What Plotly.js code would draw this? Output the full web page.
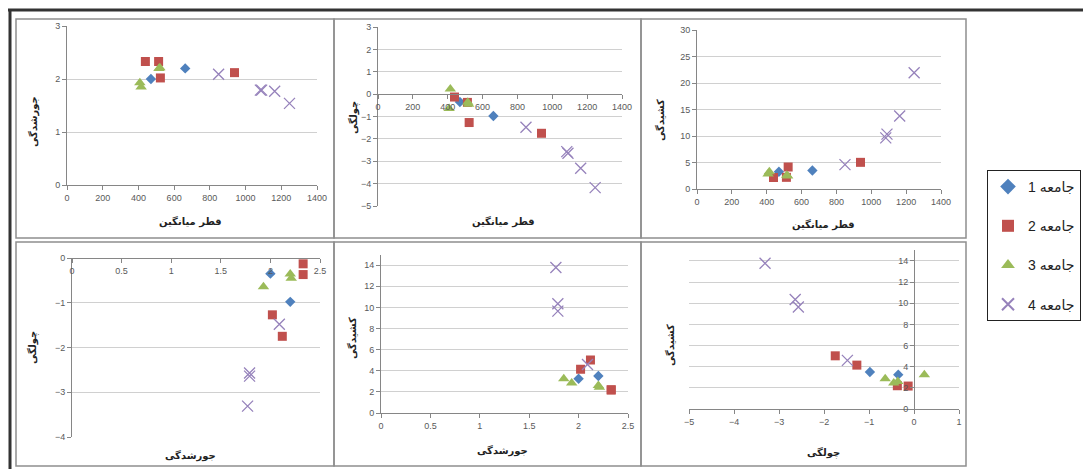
<!DOCTYPE html>
<html>
<head>
<meta charset="utf-8">
<script src="https://cdn.plot.ly/plotly-3.0.1.min.js"></script>
<style>html,body{margin:0;padding:0;background:#fff;}#chart{width:1083px;height:469px;}</style>
</head>
<body>
<div id="chart"></div>
<script>
// ---- Data ----
const groupNames = ['جامعه 1', 'جامعه 2', 'جامعه 3', 'جامعه 4'];

// mean diameter (قطر میانگین)
const g1_diameter = [470, 662];
const g2_diameter = [439, 513, 523, 938];
const g3_diameter = [415, 408, 515, 520];
const g4_diameter = [849, 1083, 1090, 1163, 1246];

// sorting (جورشدگی)
const g1_sorting = [2.0, 2.2];
const g2_sorting = [2.33, 2.33, 2.02, 2.12];
const g3_sorting = [1.85, 1.93, 2.2, 2.21];
const g4_sorting = [2.09, 1.79, 1.79, 1.77, 1.54];

// skewness (چولگی)
const g1_skewness = [-0.35, -0.98];
const g2_skewness = [-0.13, -0.37, -1.27, -1.75];
const g3_skewness = [0.23, -0.64, -0.36, -0.45];
const g4_skewness = [-1.48, -2.57, -2.64, -3.31, -4.18];

// kurtosis (کشیدگی)
const g1_kurtosis = [3.25, 3.5];
const g2_kurtosis = [2.17, 2.2, 4.15, 5.03];
const g3_kurtosis = [3.25, 2.85, 2.6, 2.45];
const g4_kurtosis = [4.6, 9.65, 10.35, 13.78, 21.95];

const labelDiameter = 'قطر میانگین';
const labelSorting = 'جورشدگی';
const labelSkewness = 'چولگی';
const labelKurtosis = 'کشیدگی';

// ---- Build ----
const W = 1083, H = 469;
const fx = p => p / W;
const fy = p => 1 - p / H;
const rtl = s => '\u202B' + s + '\u202C';

const groups = [
  {name: groupNames[0], d: g1_diameter, s: g1_sorting, k: g1_skewness, u: g1_kurtosis,
   marker: {symbol: 'diamond', size: 8, color: '#4f81bd'}},
  {name: groupNames[1], d: g2_diameter, s: g2_sorting, k: g2_skewness, u: g2_kurtosis,
   marker: {symbol: 'square', size: 9, color: '#c0504d'}},
  {name: groupNames[2], d: g3_diameter, s: g3_sorting, k: g3_skewness, u: g3_kurtosis,
   marker: {symbol: 'triangle-up', size: 10, color: '#9bbb59'}},
  {name: groupNames[3], d: g4_diameter, s: g4_sorting, k: g4_skewness, u: g4_kurtosis,
   marker: {symbol: 'x-thin-open', size: 11, color: '#9682bb', line: {color: '#9682bb', width: 1.3}}}
];

const panels = [
  {xv: 'd', yv: 's', xt: labelDiameter, yt: labelSorting, xr: [0, 1400], yr: [0, 3], xdt: 200, ydt: 1,
   xpx: [67, 317], ypx: [26, 185], xt_pos: [190, 222], yt_pos: [33, 122]},
  {xv: 'd', yv: 'k', xt: labelDiameter, yt: labelSkewness, xr: [0, 1400], yr: [-5, 3], xdt: 200, ydt: 1,
   xpx: [378, 622], ypx: [27, 206], xt_pos: [503, 222], yt_pos: [353, 118], xCross: 0},
  {xv: 'd', yv: 'u', xt: labelDiameter, yt: labelKurtosis, xr: [0, 1400], yr: [0, 30], xdt: 200, ydt: 5,
   xpx: [697, 941], ypx: [30, 189], xt_pos: [823, 224], yt_pos: [660, 120]},
  {xv: 's', yv: 'k', xt: labelSorting, yt: labelSkewness, xr: [0, 2.5], yr: [-4, 0], xdt: 0.5, ydt: 1,
   xpx: [72, 320], ypx: [258, 437], xt_pos: [190, 455], yt_pos: [32, 348], xCross: 0},
  {xv: 's', yv: 'u', xt: labelSorting, yt: labelKurtosis, xr: [0, 2.5], yr: [0, 15], xdt: 0.5, ydt: 2,
   xpx: [381, 628], ypx: [254.6, 413], xt_pos: [502, 450], yt_pos: [352, 338]},
  {xv: 'k', yv: 'u', xt: labelSkewness, yt: labelKurtosis, xr: [-5, 1], yr: [0, 15], xdt: 1, ydt: 2,
   xpx: [689, 959], ypx: [250.4, 409], xt_pos: [823, 452], yt_pos: [670, 345], yCross: 0}
];

const tickFont = {family: 'Liberation Sans, Arial, sans-serif', size: 9, color: '#595959'};
const titleFont = {family: 'DejaVu Sans, sans-serif', size: 10, color: '#222', weight: 'bold'};

const traces = [];
const layout = {
  width: W, height: H,
  margin: {l: 0, r: 0, t: 0, b: 0},
  paper_bgcolor: '#fff', plot_bgcolor: '#fff',
  showlegend: true,
  legend: {
    x: fx(987), y: fy(170), xanchor: 'left', yanchor: 'top',
    bordercolor: '#222', borderwidth: 1, bgcolor: '#fff',
    font: {family: 'Liberation Sans, DejaVu Sans, sans-serif', size: 14, color: '#222'},
    itemsizing: 'constant', tracegroupgap: 18, itemwidth: 30
  },
  annotations: [],
  shapes: []
};

panels.forEach((p, i) => {
  const n = i + 1;
  const xa = n === 1 ? 'x' : 'x' + n;
  const ya = n === 1 ? 'y' : 'y' + n;
  const xd = [fx(p.xpx[0]), fx(p.xpx[1])];
  const yd = [fy(p.ypx[1]), fy(p.ypx[0])];

  groups.forEach((g, gi) => {
    traces.push({
      type: 'scatter', mode: 'markers',
      x: g[p.xv], y: g[p.yv],
      xaxis: xa, yaxis: ya,
      name: rtl(g.name), legendgroup: 'g' + gi,
      showlegend: i === 0,
      marker: g.marker,
      hoverinfo: 'x+y'
    });
  });

  const xaxis = {
    domain: xd, range: p.xr, dtick: p.xdt, tick0: p.xr[0],
    showgrid: false, zeroline: false,
    showline: true, linecolor: '#868686', linewidth: 1,
    ticks: 'outside', ticklen: 4, tickcolor: '#868686',
    tickfont: tickFont, anchor: ya, side: 'bottom', fixedrange: true
  };
  const yaxis = {
    domain: yd, range: p.yr, dtick: p.ydt, tick0: p.yr[0],
    showgrid: true, gridcolor: '#d0d0d0', gridwidth: 1, zeroline: false,
    showline: true, linecolor: '#868686', linewidth: 1,
    ticks: 'outside', ticklen: 4, tickcolor: '#868686',
    tickfont: tickFont, anchor: xa, side: 'left', fixedrange: true
  };
  if (p.xCross !== undefined) {
    xaxis.anchor = 'free';
    xaxis.position = yd[0] + (p.xCross - p.yr[0]) / (p.yr[1] - p.yr[0]) * (yd[1] - yd[0]);
  }
  if (p.yCross !== undefined) {
    yaxis.anchor = 'free';
    yaxis.position = xd[0] + (p.yCross - p.xr[0]) / (p.xr[1] - p.xr[0]) * (xd[1] - xd[0]);
  }
  layout['xaxis' + (n === 1 ? '' : n)] = xaxis;
  layout['yaxis' + (n === 1 ? '' : n)] = yaxis;

  layout.annotations.push({
    xref: 'paper', yref: 'paper', x: fx(p.xt_pos[0]), y: fy(p.xt_pos[1]),
    xanchor: 'center', yanchor: 'middle', showarrow: false, text: p.xt, font: titleFont
  });
  layout.annotations.push({
    xref: 'paper', yref: 'paper', x: fx(p.yt_pos[0]), y: fy(p.yt_pos[1]),
    xanchor: 'center', yanchor: 'middle', showarrow: false, text: p.yt, font: titleFont,
    textangle: -90
  });
});

// panel frames
const colEdges = [16, 334, 641, 966];
const rowEdges = [[19, 238], [242, 466]];
rowEdges.forEach(r => {
  for (let c = 0; c < 3; c++) {
    layout.shapes.push({
      type: 'rect', xref: 'paper', yref: 'paper', layer: 'below',
      x0: fx(colEdges[c]), x1: fx(colEdges[c + 1]), y0: fy(r[1]), y1: fy(r[0]),
      line: {color: '#8f8f8f', width: 1.5}
    });
  }
});
// outer thick frame (top and left)
layout.shapes.push({type: 'line', xref: 'paper', yref: 'paper', x0: fx(8), x1: 1, y0: fy(10), y1: fy(10),
  line: {color: '#333', width: 3}});
layout.shapes.push({type: 'line', xref: 'paper', yref: 'paper', x0: fx(10), x1: fx(10), y0: 0, y1: fy(10),
  line: {color: '#333', width: 3}});

Plotly.newPlot('chart', traces, layout, {displayModeBar: false, staticPlot: true});
</script>
</body>
</html>
